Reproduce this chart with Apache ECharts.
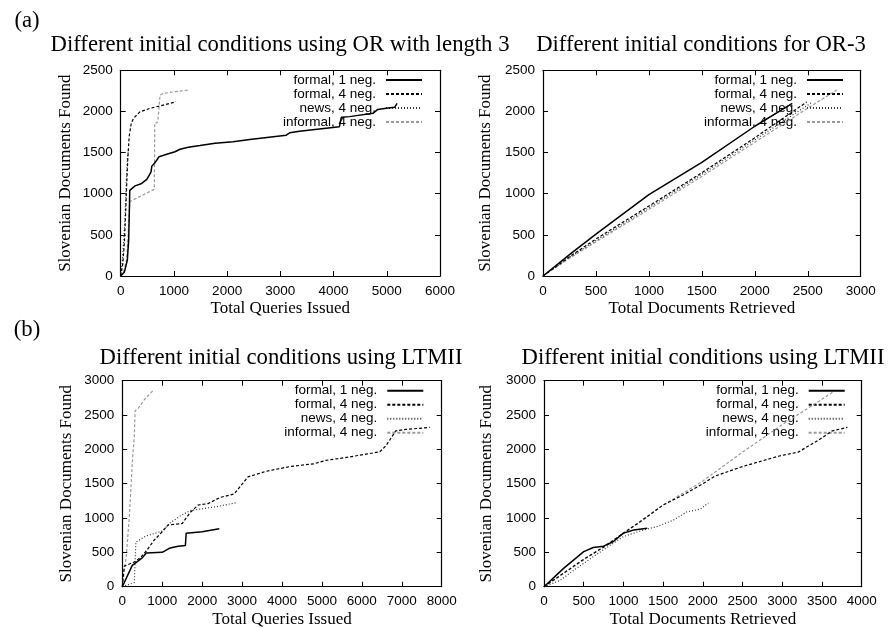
<!DOCTYPE html>
<html>
<head>
<meta charset="utf-8">
<title>Slovenian documents found under different initial conditions</title>
<script src="https://cdn.jsdelivr.net/npm/echarts@6/dist/echarts.min.js"></script>
<style>
  html, body { margin: 0; padding: 0; background: #fff; }
  #chart { width: 888px; height: 628px; }
</style>
</head>
<body>
<div id="chart"></div>
<script>
// Series names shared by all four panels
const seriesNames = ['formal, 1 neg.', 'formal, 4 neg.', 'news, 4 neg.', 'informal, 4 neg.'];

// Panel titles and axis names
const panelTitles = [
  'Different initial conditions using OR with length 3',
  'Different initial conditions for OR-3',
  'Different initial conditions using LTMII',
  'Different initial conditions using LTMII'
];
const rowLabels = ['(a)', '(b)'];
const yAxisName = 'Slovenian Documents Found';
const xAxisNames = ['Total Queries Issued', 'Total Documents Retrieved', 'Total Queries Issued', 'Total Documents Retrieved'];

// Axis ranges: [xMax, xInterval, yMax, yInterval]
const axisRanges = [
  [6000, 1000, 2500, 500],
  [3000, 500, 2500, 500],
  [8000, 1000, 3000, 500],
  [4000, 500, 3000, 500]
];

// (a) OR with length 3 — documents found vs. queries issued
const orQueriesFormal1 = [[0,0],[70,50],[125,195],[150,440],[163,800],[170,1040],[270,1095],[395,1125],[490,1175],[540,1230],[570,1265],[585,1335],[635,1370],[680,1410],[720,1450],[865,1480],[1020,1510],[1115,1540],[1270,1565],[1490,1585],[1773,1613],[2110,1632],[2425,1660],[3110,1712],[3175,1740],[3360,1760],[4110,1815],[4145,1928],[4300,1937],[4740,1977],[4830,2025],[4990,2038],[5145,2050],[5195,2098]];
const orQueriesFormal4 = [[0,0],[40,150],[70,420],[95,800],[115,1150],[135,1450],[160,1700],[200,1860],[240,1915],[360,1995],[550,2037],[740,2068],[1040,2118]];
const orQueriesNews4 = [[0,0],[30,180],[60,450],[85,800],[105,1150],[125,1420],[145,1530],[170,1550]];
const orQueriesInformal4 = [[0,0],[60,60],[110,200],[140,500],[160,800],[175,905],[632,1055],[640,1860],[680,1860],[700,1895],[740,2200],[800,2219],[1020,2240],[1270,2260]];

// (a) OR-3 — documents found vs. documents retrieved
const orDocsFormal1 = [[0,0],[250,260],[500,510],[1000,990],[1500,1380],[2000,1820],[2354,2098]];
const orDocsFormal4 = [[0,0],[250,235],[500,450],[1000,850],[1500,1255],[2000,1680],[2490,2115]];
const orDocsNews4 = [[0,0],[250,225],[500,430],[1000,830],[1500,1235],[2000,1655],[2540,2110]];
const orDocsInformal4 = [[0,0],[250,215],[500,415],[1000,810],[1500,1210],[2000,1625],[2500,2040],[2773,2260]];

// (b) LTMII — documents found vs. queries issued
const ltmQueriesFormal1 = [[0,0],[250,310],[500,420],[600,490],[1000,500],[1200,565],[1400,590],[1580,600],[1600,780],[2000,800],[2430,845]];
const ltmQueriesFormal4 = [[0,0],[50,300],[300,360],[450,420],[600,520],[800,680],[1000,800],[1150,900],[1500,920],[1700,1080],[1900,1190],[2150,1210],[2450,1300],[2800,1350],[3150,1600],[3600,1680],[4200,1750],[4800,1790],[5100,1840],[5700,1890],[6100,1930],[6450,1965],[6600,2050],[6850,2270],[7100,2290],[7700,2320]];
const ltmQueriesNews4 = [[0,0],[300,60],[340,650],[600,740],[1000,810],[1200,930],[1450,1030],[1700,1110],[1950,1130],[2350,1165],[2870,1225]];
const ltmQueriesInformal4 = [[0,0],[100,450],[180,1050],[260,1900],[300,2170],[320,2560],[400,2600],[560,2730],[760,2850]];

// (b) LTMII — documents found vs. documents retrieved
const ltmDocsFormal1 = [[0,0],[250,270],[500,510],[620,570],[750,590],[870,655],[1000,780],[1130,825],[1300,850]];
const ltmDocsFormal4 = [[0,0],[250,200],[500,400],[800,610],[1000,780],[1200,940],[1500,1190],[1750,1335],[2000,1500],[2150,1610],[2500,1750],[2950,1900],[3200,1960],[3450,2130],[3630,2270],[3820,2320]];
const ltmDocsNews4 = [[0,0],[200,90],[400,260],[700,500],[1000,730],[1250,825],[1420,875],[1630,970],[1800,1090],[1970,1130],[2070,1220]];
const ltmDocsInformal4 = [[0,0],[500,390],[1000,780],[1250,970],[1500,1190],[1750,1360],[2000,1540],[2500,1960],[3000,2360],[3500,2730],[3650,2845]];

const panelData = [
  [orQueriesFormal1, orQueriesFormal4, orQueriesNews4, orQueriesInformal4],
  [orDocsFormal1, orDocsFormal4, orDocsNews4, orDocsInformal4],
  [ltmQueriesFormal1, ltmQueriesFormal4, ltmQueriesNews4, ltmQueriesInformal4],
  [ltmDocsFormal1, ltmDocsFormal4, ltmDocsNews4, ltmDocsInformal4]
];

// ---- presentation ----
const SERIF = '"Liberation Serif", "Times New Roman", serif';
const SANS = '"Liberation Sans", Arial, Helvetica, sans-serif';

const lineStyles = [
  { color: '#000', width: 1.5, type: 'solid' },
  { color: '#000', width: 1.2, type: [3, 2] },
  { color: '#333', width: 1.2, type: [1, 2] },
  { color: '#999', width: 1.2, type: [3, 2] }
];

// plot boxes: left, top, width, height
const gridBoxes = [
  { left: 120.7, top: 70.3, width: 319.3, height: 205.7 },
  { left: 543, top: 70.3, width: 317.7, height: 205.7 },
  { left: 122.3, top: 380.7, width: 319.4, height: 206 },
  { left: 544, top: 380.7, width: 317.7, height: 206 }
];
const legendPos = [
  { right: 465, top: 73 },
  { right: 44, top: 73 },
  { right: 463.7, top: 383.7 },
  { right: 42.3, top: 383.7 }
];
const titlePos = [[280, 45], [701, 45], [281, 358], [703, 358]];
const rowLabelPos = [[27, 21], [27, 330]];

const axisLine = { show: true, onZero: false, lineStyle: { color: '#000', width: 1.2 } };
const axisTick = { show: true, inside: true, length: 5, lineStyle: { color: '#000', width: 1 } };
const labelStyle = { color: '#000', fontFamily: SANS, fontSize: 13.5, margin: 8,
  showMinLabel: true, showMaxLabel: true, formatter: v => String(v) };
const nameStyle = { color: '#000', fontFamily: SERIF, fontSize: 17 };

const grid = [], xAxis = [], yAxis = [], series = [], legend = [], graphic = [];

gridBoxes.forEach((box, i) => {
  grid.push(Object.assign({ containLabel: false, outerBoundsMode: 'none' }, box));
  const [xMax, xInt, yMax, yInt] = axisRanges[i];
  const xBase = { gridIndex: i, type: 'value', min: 0, max: xMax, interval: xInt,
    axisLine, axisTick, splitLine: { show: false } };
  const yBase = { gridIndex: i, type: 'value', min: 0, max: yMax, interval: yInt,
    axisLine, axisTick, splitLine: { show: false } };
  xAxis.push(Object.assign({}, xBase, {
    position: 'bottom', axisLabel: labelStyle,
    name: xAxisNames[i], nameLocation: 'middle', nameGap: 24, nameTextStyle: nameStyle, nameMoveOverlap: false
  }));
  xAxis.push(Object.assign({}, xBase, { position: 'top', axisLabel: { show: false } }));
  yAxis.push(Object.assign({}, yBase, {
    position: 'left', axisLabel: labelStyle,
    name: yAxisName, nameLocation: 'middle', nameRotate: 90, nameGap: i % 2 ? 48.5 : 47,
    nameTextStyle: nameStyle, nameMoveOverlap: false
  }));
  yAxis.push(Object.assign({}, yBase, { position: 'right', axisLabel: { show: false } }));

  panelData[i].forEach((data, k) => {
    series.push({
      type: 'line', name: seriesNames[k], data,
      xAxisIndex: 2 * i, yAxisIndex: 2 * i,
      symbol: 'none', showSymbol: false, smooth: false,
      lineStyle: lineStyles[k], itemStyle: { color: lineStyles[k].color },
      emphasis: { disabled: true }, z: 10 - k
    });
  });

  // legend keys show only the line sample (marker hidden)
  legend.push(Object.assign({
    orient: 'vertical', align: 'right', padding: 0, itemGap: 0,
    itemWidth: 36, itemHeight: 14, data: seriesNames, selectedMode: false,
    itemStyle: { opacity: 0, borderWidth: 0 },
    textStyle: { color: '#000', fontFamily: SANS, fontSize: 13.5, lineHeight: 14, padding: [0, 5, 0, 0] }
  }, legendPos[i]));

  graphic.push({
    type: 'text', x: titlePos[i][0], y: titlePos[i][1], silent: true,
    style: { text: panelTitles[i], font: '22.7px ' + SERIF, fill: '#000',
      align: 'center', verticalAlign: 'middle', textAlign: 'center', textVerticalAlign: 'middle' }
  });
});

rowLabels.forEach((t, r) => {
  graphic.push({
    type: 'text', x: rowLabelPos[r][0], y: rowLabelPos[r][1], silent: true,
    style: { text: t, font: '22.7px ' + SERIF, fill: '#000',
      align: 'center', verticalAlign: 'middle', textAlign: 'center', textVerticalAlign: 'middle' }
  });
});

const chart = echarts.init(document.getElementById('chart'), null, { renderer: 'canvas' });
chart.setOption({
  backgroundColor: '#fff',
  animation: false,
  grid, xAxis, yAxis, series, legend, graphic
});
</script>
</body>
</html>
